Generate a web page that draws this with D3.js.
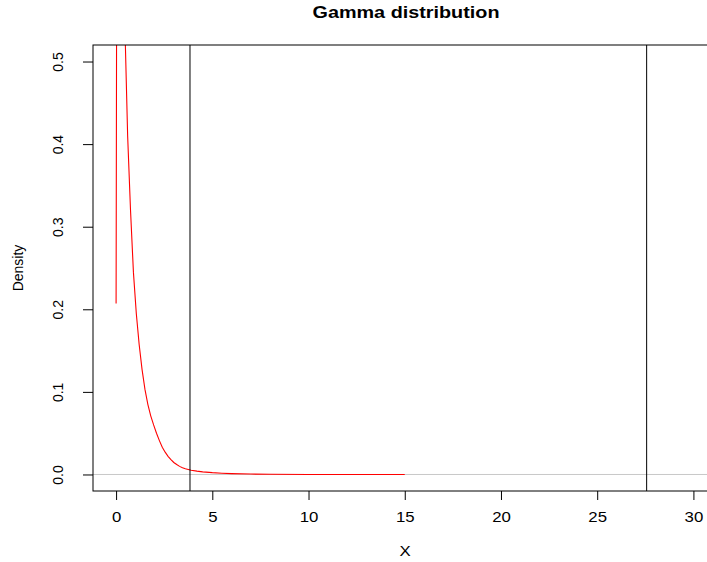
<!DOCTYPE html>
<html>
<head>
<meta charset="utf-8">
<script src="https://cdn.jsdelivr.net/npm/d3@7"></script>
<style>
  body { margin: 0; background: #fff; }
  text { font-family: "Liberation Sans", Arial, Helvetica, sans-serif; fill: #000; }
</style>
</head>
<body>
<div id="chart"></div>
<script>
// density curve (x, density)
var curveX = [0, 0.15, 0.3, 0.45, 0.6, 0.75, 0.9, 1.05, 1.2, 1.35, 1.5, 1.65, 1.8, 1.95,
              2.1, 2.25, 2.4, 2.55, 2.7, 2.85, 3.0, 3.15, 3.3, 3.45, 3.6, 3.9, 4.2, 4.5, 5.0, 5.5, 6.0, 7.0, 8.0, 10.0, 12.0, 15.0];
var curveY = [0.207, 2.2, 0.95, 0.55, 0.41, 0.32, 0.245, 0.195, 0.157, 0.127, 0.103, 0.085, 0.071, 0.060,
              0.050, 0.041, 0.033, 0.027, 0.022, 0.018, 0.0145, 0.012, 0.0098, 0.0082, 0.0069, 0.0052, 0.0041, 0.0032, 0.0022, 0.0015, 0.001, 0.0005, 0.0002, 0.00005, 0.00001, 0];
// vertical reference lines
var vLines = [3.84, 27.57];
var hLines = [0];

var xTicks = [0, 5, 10, 15, 20, 25, 30];
var yTicks = [0, 0.1, 0.2, 0.3, 0.4, 0.5];

var title = "Gamma distribution",
    xLabel = "X",
    yLabel = "Density";

var W = 707, H = 562;
var plot = {left: 93, right: 716.5, top: 45, bottom: 491};
var sx = 1.2; // text in the picture is a bit wider than tall

var svg = d3.select("#chart").append("svg")
    .attr("width", W).attr("height", H);

var x = d3.scaleLinear().domain([-1.2, 31.2]).range([plot.left, plot.right]);
var y = d3.scaleLinear().domain([-0.02, 0.52]).range([plot.bottom, plot.top]);

svg.append("defs").append("clipPath").attr("id", "clip")
  .append("rect")
    .attr("x", plot.left).attr("y", plot.top)
    .attr("width", plot.right - plot.left).attr("height", plot.bottom - plot.top);

var inner = svg.append("g").attr("clip-path", "url(#clip)");

// grey zero line
inner.selectAll("line.h").data(hLines).enter().append("line")
    .attr("class", "h")
    .attr("x1", plot.left).attr("x2", plot.right)
    .attr("y1", function(d) { return y(d); }).attr("y2", function(d) { return y(d); })
    .style("stroke", "#c8c8c8").style("stroke-width", 1);

// the curve
var pts = curveX.map(function(d, i) { return [d, curveY[i]]; });
inner.append("path")
    .datum(pts)
    .attr("d", d3.line().x(function(d) { return x(d[0]); }).y(function(d) { return y(d[1]); }))
    .style("fill", "none").style("stroke", "#ff0000").style("stroke-width", 1.1);

// vertical lines
inner.selectAll("line.v").data(vLines).enter().append("line")
    .attr("class", "v")
    .attr("x1", function(d) { return x(d); }).attr("x2", function(d) { return x(d); })
    .attr("y1", plot.top).attr("y2", plot.bottom)
    .style("stroke", "#000").style("stroke-width", 1);

// box
svg.append("rect")
    .attr("x", plot.left).attr("y", plot.top)
    .attr("width", plot.right - plot.left).attr("height", plot.bottom - plot.top)
    .style("fill", "none").style("stroke", "#000").style("stroke-width", 1);

// x axis
var xAxisEl = svg.append("g")
    .attr("transform", "translate(0," + plot.bottom + ")")
    .call(d3.axisBottom(x).tickValues(xTicks).tickSize(9).tickPadding(1).tickFormat(d3.format("d")));
xAxisEl.select(".domain").remove();
xAxisEl.selectAll(".tick line").style("stroke", "#000");
xAxisEl.selectAll(".tick text")
    .attr("y", null).attr("dy", null)
    .attr("transform", "translate(0,31) scale(" + sx + ",1)")
    .style("font-size", "14px");

// y axis
var yAxisEl = svg.append("g")
    .attr("transform", "translate(" + plot.left + ",0)")
    .call(d3.axisLeft(y).tickValues(yTicks).tickSize(10).tickFormat(d3.format(".1f")));
yAxisEl.select(".domain").remove();
yAxisEl.selectAll(".tick line").style("stroke", "#000");
yAxisEl.selectAll(".tick text")
    .attr("x", null).attr("dy", null)
    .attr("text-anchor", "middle")
    .attr("transform", "translate(-30,0) rotate(-90)")
    .style("font-size", "14px");

// titles
svg.append("text")
    .attr("transform", "translate(406,18) scale(" + sx + ",1)")
    .attr("text-anchor", "middle")
    .style("font-size", "16.5px").style("font-weight", "bold")
    .text(title);

svg.append("text")
    .attr("transform", "translate(405,556) scale(" + sx + ",1)")
    .attr("text-anchor", "middle")
    .style("font-size", "14px")
    .text(xLabel);

svg.append("text")
    .attr("transform", "translate(23,268) rotate(-90)")
    .attr("text-anchor", "middle")
    .style("font-size", "14px")
    .text(yLabel);
</script>
</body>
</html>
